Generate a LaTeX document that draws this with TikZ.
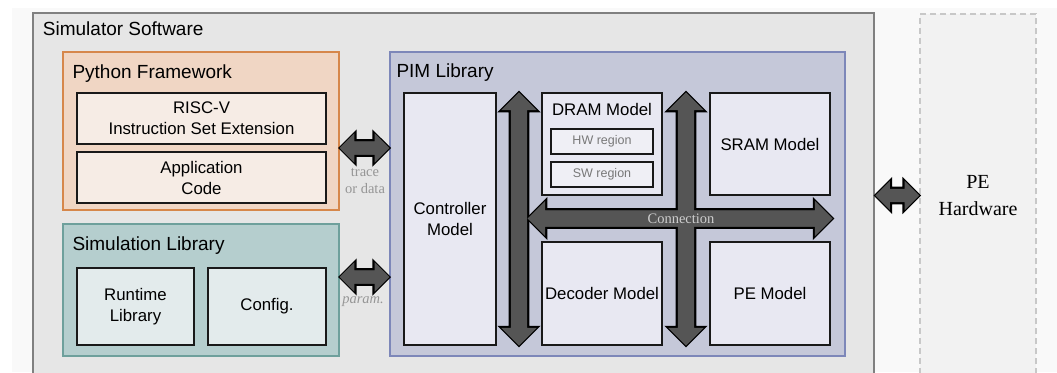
\documentclass[tikz,border=0pt]{standalone}
\usepackage{fontspec}
\setmainfont{Liberation Serif}
\setsansfont{Liberation Sans}
\usetikzlibrary{positioning,calc,shapes.arrows}

\definecolor{bggray}{RGB}{249,249,249}
\definecolor{simfill}{RGB}{230,230,230}
\definecolor{simline}{RGB}{128,128,128}
\definecolor{hwfill}{RGB}{242,242,242}
\definecolor{hwline}{RGB}{200,200,200}
\definecolor{pyfill}{RGB}{240,214,196}
\definecolor{pyline}{RGB}{214,135,75}
\definecolor{pyblock}{RGB}{246,236,229}
\definecolor{slfill}{RGB}{181,206,206}
\definecolor{slline}{RGB}{110,160,156}
\definecolor{slblock}{RGB}{227,235,236}
\definecolor{pimfill}{RGB}{197,200,217}
\definecolor{pimline}{RGB}{125,135,185}
\definecolor{pimblock}{RGB}{232,232,242}
\definecolor{regionfill}{RGB}{239,239,245}
\definecolor{regiontext}{RGB}{120,120,120}
\definecolor{arrgray}{RGB}{85,85,85}
\definecolor{notegray}{RGB}{150,150,150}
\definecolor{connectgray}{RGB}{205,205,205}

\tikzset{
  panel/.style={line width=1.4pt, inner sep=0pt},
  title/.style={inner sep=0pt, font=\sffamily\fontsize{19}{22}\selectfont},
  blocktext/.style={inner sep=0pt, align=center, font=\sffamily\fontsize{16.8}{21}\selectfont},
  block/.style={blocktext, draw=black!90, line width=1.3pt},
  region/.style={draw=black!90, line width=1.2pt, fill=regionfill, text=regiontext,
    font=\sffamily\fontsize{12.5}{14}\selectfont, minimum width=102pt, minimum height=25pt},
  note/.style={inner sep=0pt, align=center, text=notegray, font=\fontsize{14.5}{17}\selectfont},
  linkarrow/.style={double arrow, inner xsep=0pt, inner ysep=6.5pt, double arrow head extend=8pt},
  busarrow/.style={double arrow, inner xsep=0pt, inner ysep=8pt, double arrow head extend=9.5pt},
  arrline/.style={draw=black, line width=2.4pt, fill=arrgray},
  arrfill/.style={fill=arrgray}
}

% double block arrow from #2 to #3
\newcommand\twoway[3]{%
  \path let \p1=(#2), \p2=(#3),
    \n1={veclen(\x2-\x1,\y2-\y1)}, \n2={atan2(\y2-\y1,\x2-\x1)}
    in node[#1, minimum height=\n1, rotate=\n2] at ($(\p1)!.5!(\p2)$) {};}

% all block arrows, drawn twice so that crossings merge
\newcommand\allarrows[1]{%
  \twoway{linkarrow,#1}{py.east |- tracey}{pim.west |- tracey}
  \twoway{linkarrow,#1}{simlib.east |- paramy}{pim.west |- paramy}
  \twoway{linkarrow,#1}{sim.east |- hwy}{pehw.west |- hwy}
  \twoway{busarrow,#1}{busA |- ctrl.north}{busA |- ctrl.south}
  \twoway{busarrow,#1}{busB |- sram.north}{busB |- pemod.south}
  \twoway{busarrow,#1}{$(busA |- busC)+(8.5,0)$}{$(sram.east |- busC)+(2,0)$}}

\begin{document}
\begin{tikzpicture}[x=1pt, y=-1pt]
  \useasboundingbox (0,0) rectangle (1057,372);
  \clip (0,0) rectangle (1057,372);
  \fill[bggray] (12,8) rectangle (1057,372);

  % software side
  \node[panel, draw=simline, fill=simfill, line width=2.5pt, minimum width=841pt, minimum height=377pt] (sim) at (453.5,201.5) {};
  \node[title, below right=10pt and 11pt of sim.north west] (simtitle) {Simulator Software};

  % hardware side
  \node[panel, draw=hwline, fill=hwfill, dash pattern=on 6pt off 4pt, minimum width=116pt, minimum height=364pt,
    align=center, font=\fontsize{20}{27}\selectfont] (pehw) at (978,196) {PE\\Hardware};

  % python framework
  \node[panel, draw=pyline, fill=pyfill, minimum width=276pt, minimum height=158pt] (py) at (201,131) {};
  \node[title, below right=13pt and 10pt of py.north west] (pytitle) {Python Framework};
  \node[block, fill=pyblock, minimum width=249pt, minimum height=51pt] (riscv) at (201.5,118.5) {RISC-V\\Instruction Set Extension};
  \node[block, fill=pyblock, minimum width=249pt, minimum height=51pt] (appcode) at (201.5,177.5) {Application\\Code};

  % simulation library
  \node[panel, draw=slline, fill=slfill, minimum width=276pt, minimum height=132pt] (simlib) at (201,290) {};
  \node[title, below right=13pt and 10pt of simlib.north west] (sltitle) {Simulation Library};
  \node[block, fill=slblock, minimum width=117pt, minimum height=77pt] (runtime) at (135.5,306.5) {Runtime\\Library};
  \node[block, fill=slblock, minimum width=118pt, minimum height=77pt] (config) at (267,306.5) {Config.};

  % pim library
  \node[panel, draw=pimline, fill=pimfill, minimum width=455pt, minimum height=304pt] (pim) at (617.5,204) {};
  \node[title, below right=12pt and 7pt of pim.north west] (pimtitle) {PIM Library};
  \node[block, fill=pimblock, minimum width=92pt, minimum height=252pt] (ctrl) at (450,219) {Controller\\Model};
  \node[block, fill=pimblock, minimum width=120pt, minimum height=102pt] (dram) at (602,144) {};
  \node[blocktext, below=11pt of dram.north] (dramtitle) {DRAM Model};
  \node[region] (hwreg) at (602,141.5) {HW region};
  \node[region] (swreg) at (602,174.5) {SW region};
  \node[block, fill=pimblock, minimum width=120pt, minimum height=102pt] (sram) at (770,144) {SRAM Model};
  \node[block, fill=pimblock, minimum width=120pt, minimum height=103pt] (decoder) at (602,293.5) {Decoder Model};
  \node[block, fill=pimblock, minimum width=120pt, minimum height=103pt] (pemod) at (770,293.5) {PE Model};

  % arrows
  \coordinate (busA) at ($(ctrl.east)!.5!(dram.west)$);
  \coordinate (busB) at ($(dram.east)!.5!(sram.west)$);
  \coordinate (busC) at ($(dram.south)!.5!(decoder.north)$);
  \coordinate (tracey) at (0,148);
  \coordinate (paramy) at (0,277);
  \coordinate (hwy) at (0,195.5);
  \allarrows{arrline}
  \allarrows{arrfill}

  \node[note] (tracenote) at (365,181) {trace\\or data};
  \node[note] (paramnote) at (363,302) {\itshape param.};
  \node[note, text=connectgray] (busnote) at ($(busB |- busC)+(-5,0)$) {Connection};
\end{tikzpicture}
\end{document}
